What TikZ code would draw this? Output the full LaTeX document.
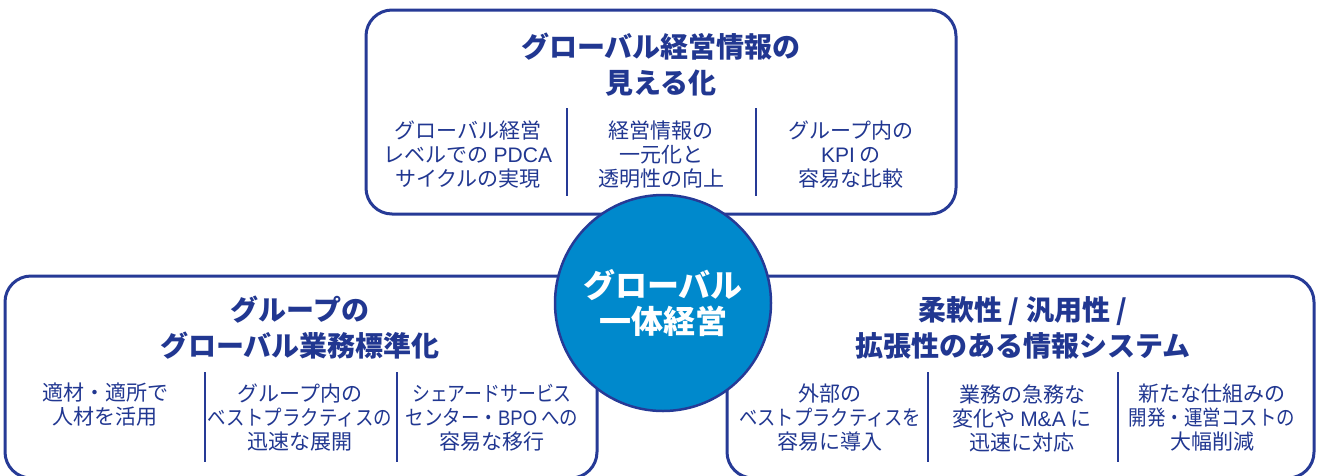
\documentclass[tikz,border=0pt]{standalone}
\usepackage{fontspec}
\setmainfont{Noto Sans CJK JP}
\newfontfamily\latf{Liberation Sans}
\newcommand{\lat}[1]{{\latf #1}}
\newcommand{\sqz}[2]{\scalebox{#1}[1]{#2}}
\definecolor{navy}{RGB}{38,58,150}
\definecolor{ctext}{RGB}{33,55,145}
\definecolor{cblue}{RGB}{0,137,204}
\tikzset{
  panel/.style={draw=navy, line width=3pt, rounded corners=26pt, fill=white},
  divider/.style={draw=navy, line width=2.6pt},
  ttl/.style={text=ctext, align=center, inner sep=0pt, font=\fontsize{28}{36}\selectfont\bfseries},
  sub/.style={text=ctext, align=center, inner sep=0pt, font=\fontsize{21}{24}\selectfont},
  hub/.style={circle, draw=navy, line width=2.5pt, fill=cblue, minimum size=216pt, inner sep=0pt,
     text=white, align=center, font=\fontsize{32}{36}\selectfont\bfseries}
}
\begin{document}
\begin{tikzpicture}[x=1pt,y=-1pt]
\useasboundingbox (0,0) rectangle (1318,475);
% panels
\draw[panel] (366,10) rectangle (956,214);
\draw[panel] (5,276) rectangle (597,478);
\draw[panel] (727,276) rectangle (1314,478);
% top panel
\node[ttl] (t1) at (661,64.5) {グローバル経営情報の\\見える化};
\coordinate (d1a) at (567,108); \coordinate (d1b) at (567,196);
\coordinate (d2a) at (756,108); \coordinate (d2b) at (756,196);
\draw[divider] (d1a) -- (d1b);
\draw[divider] (d2a) -- (d2b);
\node[sub] (t1c1) at (468,155) {グローバル経営\\レベルでの \lat{PDCA}\\サイクルの実現};
\node[sub] (t1c2) at (661,155) {経営情報の\\一元化と\\透明性の向上};
\node[sub] (t1c3) at (851,155) {グループ内の\\\lat{KPI} の\\容易な比較};
% bottom-left panel
\node[ttl] (t2) at (300,328) {グループの\\グローバル業務標準化};
\coordinate (d3a) at (205,372); \coordinate (d3b) at (205,462);
\coordinate (d4a) at (397,372); \coordinate (d4b) at (397,462);
\draw[divider] (d3a) -- (d3b);
\draw[divider] (d4a) -- (d4b);
\node[sub] (t2c1) at (105,405) {適材・適所で\\人材を活用};
\node[sub] (t2c2) at (300,418) {グループ内の\\\sqz{0.88}{ベストプラクティスの}\\迅速な展開};
\node[sub] (t2c3) at (492,418) {\sqz{0.85}{シェアードサービス}\\\sqz{0.88}{センター・\lat{BPO} への}\\容易な移行};
% bottom-right panel
\node[ttl] (t3) at (1023,328) {柔軟性 / 汎用性 /\\拡張性のある情報システム};
\coordinate (d5a) at (928,372); \coordinate (d5b) at (928,462);
\coordinate (d6a) at (1118,372); \coordinate (d6b) at (1118,462);
\draw[divider] (d5a) -- (d5b);
\draw[divider] (d6a) -- (d6b);
\node[sub] (t3c1) at (830,418) {外部の\\\sqz{0.87}{ベストプラクティスを}\\容易に導入};
\node[sub] (t3c2) at (1022,418) {業務の急務な\\変化や \lat{M\&A} に\\迅速に対応};
\node[sub] (t3c3) at (1212,418) {新たな仕組みの\\\sqz{0.88}{開発・運営コストの}\\大幅削減};
% hub
\node[hub] (hub) at (663,303) {グローバル\\一体経営};
\end{tikzpicture}
\end{document}
